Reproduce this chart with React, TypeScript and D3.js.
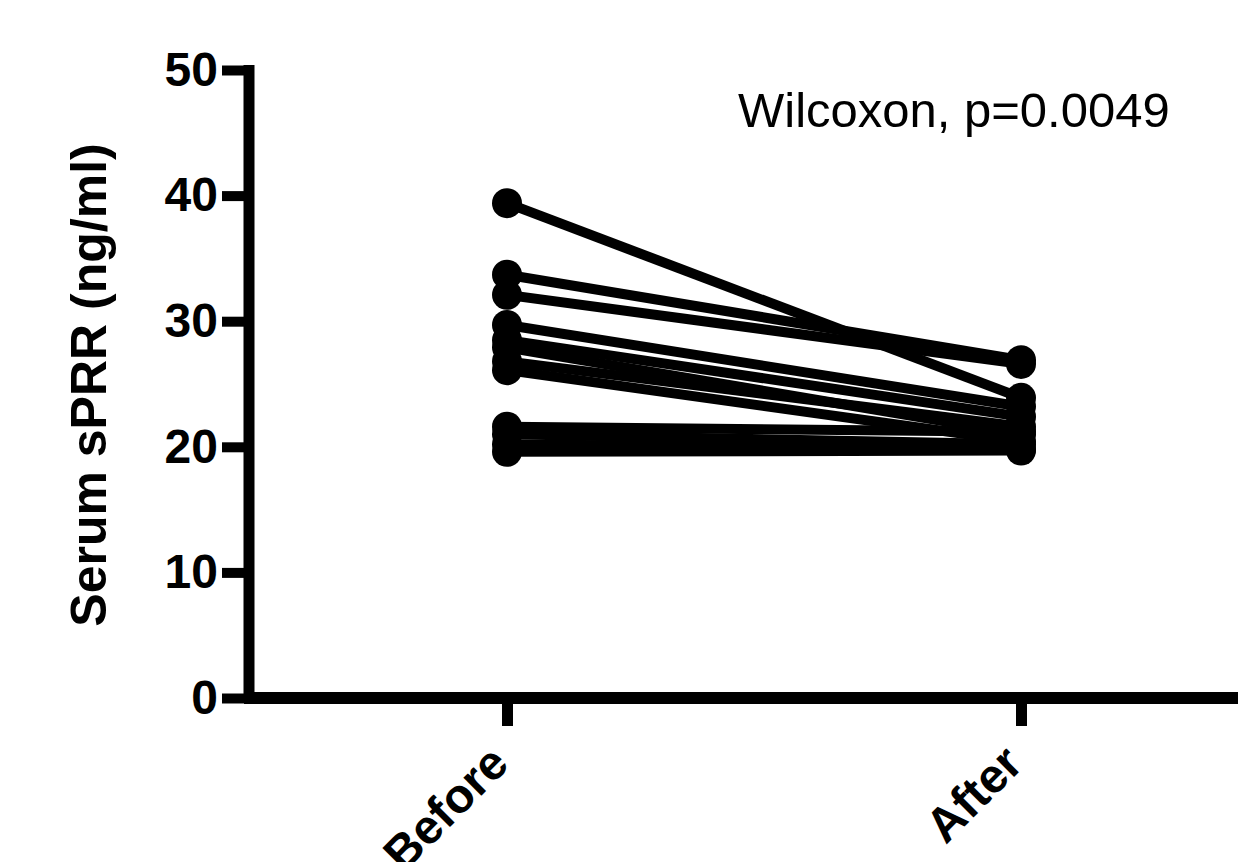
import React, { useEffect, useRef } from 'react';
import * as d3 from 'd3';

// paired values (ng/ml)
const groups = ['Before', 'After'];
const beforeValues = [39.4, 33.7, 32.1, 29.7, 28.5, 27.9, 26.8, 26.1, 21.6, 21.0, 20.2, 19.6];
const afterValues = [23.9, 26.9, 26.6, 23.2, 22.4, 21.0, 21.6, 20.4, 21.2, 20.2, 19.8, 19.7];
const yTicks = [0, 10, 20, 30, 40, 50];
const yLabel = 'Serum sPRR (ng/ml)';
const statLabel = 'Wilcoxon, p=0.0049';

const W = 1238;
const H = 862;
const FONT = '"Liberation Sans", Arial, sans-serif';

const App = () => {
    const ref = useRef<SVGSVGElement | null>(null);

    useEffect(() => {
        const svg = d3.select(ref.current);
        svg.selectAll('*').remove();

        const axisX = 249;
        const y = d3.scaleLinear().domain([0, 50]).range([698, 70]);
        const x = d3.scalePoint<string>().domain(groups).range([507, 1021]);

        const pairs = beforeValues.map((b, i) => [
            { g: groups[0], v: b },
            { g: groups[1], v: afterValues[i] },
        ]);

        const line = d3
            .line<{ g: string; v: number }>()
            .x((d) => x(d.g) as number)
            .y((d) => y(d.v));

        // lines first, then markers on top
        svg
            .append('g')
            .selectAll('path')
            .data(pairs)
            .enter()
            .append('path')
            .attr('d', (d) => line(d))
            .attr('fill', 'none')
            .attr('stroke', '#000')
            .attr('stroke-width', 10);

        svg
            .append('g')
            .selectAll('circle')
            .data(pairs.flat())
            .enter()
            .append('circle')
            .attr('cx', (d) => x(d.g) as number)
            .attr('cy', (d) => y(d.v))
            .attr('r', 15)
            .attr('fill', '#000');

        // y axis
        const gy = svg
            .append('g')
            .attr('transform', `translate(${axisX},0)`)
            .call(d3.axisLeft(y).tickValues(yTicks).tickSize(27).tickSizeOuter(0).tickPadding(4));
        gy.select('.domain').remove();
        gy.selectAll('.tick line').attr('stroke', '#000').attr('stroke-width', 10);
        gy.selectAll('.tick text')
            .attr('fill', '#000')
            .style('font-family', FONT)
            .style('font-size', '48px')
            .style('font-weight', 'bold');
        svg
            .append('line')
            .attr('x1', axisX)
            .attr('x2', axisX)
            .attr('y1', 65)
            .attr('y2', 703)
            .attr('stroke', '#000')
            .attr('stroke-width', 11);

        // x axis
        const gx = svg
            .append('g')
            .attr('transform', `translate(0,${y(0)})`)
            .call(d3.axisBottom(x).tickSize(28).tickSizeOuter(0));
        gx.select('.domain').remove();
        gx.selectAll('.tick line').attr('stroke', '#000').attr('stroke-width', 11);
        gx.selectAll('.tick text').remove();
        svg
            .append('line')
            .attr('x1', axisX - 5)
            .attr('x2', W)
            .attr('y1', y(0))
            .attr('y2', y(0))
            .attr('stroke', '#000')
            .attr('stroke-width', 12);

        // rotated category labels
        svg
            .append('g')
            .selectAll('text')
            .data(groups)
            .enter()
            .append('text')
            .attr('transform', (d) => `translate(${(x(d) as number) + 4},766) rotate(-45)`)
            .attr('text-anchor', 'end')
            .style('font-family', FONT)
            .style('font-size', '48px')
            .style('font-weight', 'bold')
            .attr('fill', '#000')
            .text((d) => d);

        // y title
        svg
            .append('text')
            .attr('transform', 'translate(106,385) rotate(-90)')
            .attr('text-anchor', 'middle')
            .style('font-family', FONT)
            .style('font-size', '50px')
            .style('font-weight', 'bold')
            .attr('fill', '#000')
            .text(yLabel);

        // stats annotation
        svg
            .append('text')
            .attr('x', 738)
            .attr('y', 127)
            .style('font-family', FONT)
            .style('font-size', '49px')
            .attr('fill', '#000')
            .text(statLabel);
    }, []);

    return (
        <svg
            ref={ref}
            width={W}
            height={H}
            style={{ position: 'absolute', left: 0, top: 0, background: '#fff' }}
        />
    );
};

export default App;
